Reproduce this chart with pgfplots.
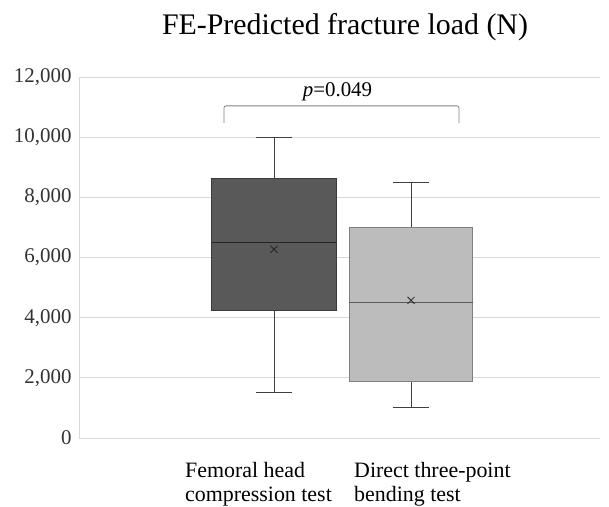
\documentclass[border=0pt]{standalone}
\usepackage{fontspec}
\setmainfont{Liberation Serif}
\usepackage{pgfplots}
\pgfplotsset{compat=1.18}
\definecolor{gridgray}{HTML}{D9D9D9}
\definecolor{darkbox}{HTML}{595959}
\definecolor{darkedge}{HTML}{3A3A3A}
\definecolor{lightbox}{HTML}{BCBCBC}
\definecolor{lightedge}{HTML}{808080}
\definecolor{whisk}{HTML}{404040}

\begin{document}
\begin{tikzpicture}
\begin{axis}[
  scale only axis, width=521bp, height=361bp,
  xmin=-0.4234, xmax=3.3796, ymin=0, ymax=12000,
  ytick={0,2000,4000,6000,8000,10000,12000}, xtick=\empty,
  ymajorgrids, grid style={gridgray, line width=0.8pt},
  axis x line=bottom, axis y line=left,
  axis line style={gridgray, line width=0.8pt, -},
  major tick length=0pt,
  scaled y ticks=false,
  /pgf/number format/1000 sep={,},
  /pgf/number format/assume math mode=true,
  tick label style={font=\fontsize{21}{25}\selectfont, text=black!80},
  yticklabel style={xshift=-4bp},
  title={FE-Predicted fracture load (N)},
  title style={at={(0.5106,1.122)}, anchor=center, font=\fontsize{30}{36}\selectfont},
  clip=false,
]
% whiskers: femoral head compression test (min 1500, max 10000)
\addplot[whisk, line width=0.9pt] coordinates {(1,8620) (1,10000)};
\addplot[whisk, line width=0.9pt] coordinates {(0.865,10000) (1.135,10000)};
\addplot[whisk, line width=0.9pt] coordinates {(1,4245) (1,1500)};
\addplot[whisk, line width=0.9pt] coordinates {(0.865,1500) (1.135,1500)};
% whiskers: direct three-point bending test (min 1000, max 8500)
\addplot[whisk, line width=0.9pt] coordinates {(2,7000) (2,8500)};
\addplot[whisk, line width=0.9pt] coordinates {(1.865,8500) (2.135,8500)};
\addplot[whisk, line width=0.9pt] coordinates {(2,1872) (2,1000)};
\addplot[whisk, line width=0.9pt] coordinates {(1.865,1000) (2.135,1000)};
% boxes (Q1 to Q3)
\addplot[draw=darkedge, fill=darkbox, line width=0.9pt]
  coordinates {(0.544,4245) (1.456,4245) (1.456,8620) (0.544,8620)} -- cycle;
\addplot[draw=lightedge, fill=lightbox, line width=0.9pt]
  coordinates {(1.550,1872) (2.450,1872) (2.450,7000) (1.550,7000)} -- cycle;
% medians
\addplot[black!85, line width=0.9pt] coordinates {(0.544,6500) (1.456,6500)};
\addplot[darkbox, line width=0.9pt] coordinates {(1.550,4500) (2.450,4500)};
% means
\addplot[only marks, mark=x, mark size=5, black!85, line width=0.8pt]
  coordinates {(1,6273) (2,4577)};

\draw[lightedge, line width=0.8pt, rounded corners=2bp]
  (axis cs:0.635,10470) -- (axis cs:0.635,11040) -- (axis cs:2.350,11040) -- (axis cs:2.350,10470);
\node[font=\fontsize{21}{25}\selectfont] at (axis cs:1.4635,11520) {\textit{p}=0.049};

\begin{scope}[every node/.style={anchor=base west, inner sep=0pt, font=\fontsize{22}{26}\selectfont}]
\node at (axis cs:0.350,-1297) {Femoral head};
\node at (axis cs:0.350,-2118) {compression test};
\node at (axis cs:1.584,-1297) {Direct three-point};
\node at (axis cs:1.584,-2118) {bending test};
\end{scope}
\end{axis}
\path[use as bounding box] ([xshift=-79bp,yshift=-68bp]current axis.south west)
  rectangle ([xshift=9bp,yshift=77bp]current axis.north east);
\end{tikzpicture}
\end{document}
